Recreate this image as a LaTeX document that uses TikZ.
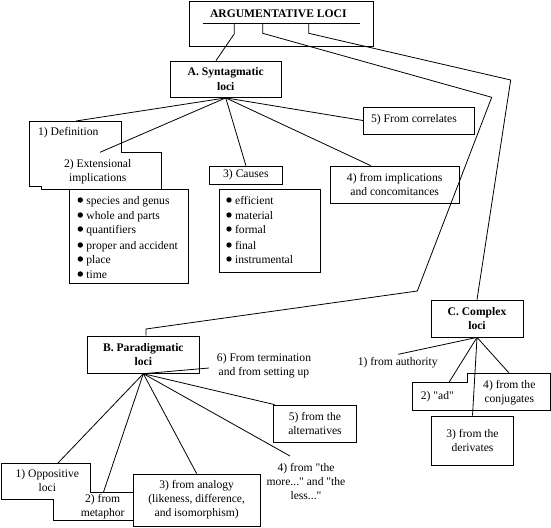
\documentclass[tikz,border=0pt]{standalone}
\usepackage{fontspec}
\setmainfont{Liberation Serif}[Ligatures=TeXOff]
\begin{document}
\begin{tikzpicture}[x=1pt,y=-1pt,line width=0.8pt,
  txt/.style={inner sep=0pt,align=center,font=\fontsize{11.6}{14}\selectfont},
  btxt/.style={inner sep=0pt,align=center,font=\fontsize{11.6}{14.5}\selectfont\bfseries},
  rect/.style={draw,inner sep=0pt},
  item/.style={inner sep=0pt,anchor=base west,font=\fontsize{11.6}{14}\selectfont},
  dot/.style={fill=black,draw=none}]
\useasboundingbox (0,0) rectangle (551,527);

% ---------- top box ----------
\node[rect,minimum width=184,minimum height=45] (top) at (281.3,23.5) {};
\node[btxt] (title) at (278.3,14) {ARGUMENTATIVE LOCI};
\coordinate (ul1) at (202.7,23.3);
\coordinate (ul2) at (360,23.3);
\draw (ul1) -- (ul2);
\coordinate (t1) at (234.3,23.3);
\coordinate (t2) at (262.7,23.3);
\coordinate (t3) at (308.7,23.3);

% ---------- A. Syntagmatic ----------
\node[rect,btxt,minimum width=110.5,minimum height=36.5] (A) at (225.75,79.25) {A. Syntagmatic\\loci};

% definition / extensional staircase
\coordinate (d1) at (29.3,121);
\coordinate (d2) at (121,121);
\coordinate (d3) at (121,152.3);
\coordinate (d4) at (161.7,152.3);
\coordinate (d5) at (161.7,189);
\coordinate (d6) at (41.7,189);
\coordinate (d7) at (41.7,186);
\coordinate (d8) at (29.3,186);
\draw (d1) -- (d2) -- (d3) -- (d4) -- (d5) -- (d6) -- (d7) -- (d8) -- cycle;
\node[txt] (def) at (68.3,132.3) {1) Definition};
\node[txt] (ext) at (97.7,172) {2) Extensional\\implications};
\coordinate (defTop) at (76,121);
\coordinate (extEnd) at (100,152.3);

\node[rect,minimum width=119,minimum height=94.3] (extlist) at (128.8,236.15) {};
\foreach \y/\t [count=\i] in {200/species and genus,215/whole and parts,229/quantifiers,245/proper and accident,259/place,274/time}{
  \fill[dot] (80.3,\y) circle (2.7);
  \node[item] (e\i) at (86,\y+4) {\t};
}

\node[rect,txt,minimum width=73.2,minimum height=18] (causes) at (245.9,175) {3) Causes};
\node[rect,minimum width=101.3,minimum height=83.3] (causelist) at (269.65,230.65) {};
\foreach \y/\t [count=\i] in {200/efficient,215/material,229/formal,245/final,259/instrumental}{
  \fill[dot] (229,\y) circle (2.7);
  \node[item] (c\i) at (234.7,\y+4) {\t};
}

\node[rect,txt,minimum width=129.3,minimum height=37.3] (impl) at (394.65,184.65) {4) from implications\\and concomitances};
\node[rect,minimum width=111,minimum height=27] (corr) at (418.8,120.5) {};
\node[txt] (corrtxt) at (414,120) {5) From correlates};

% ---------- B. Paradigmatic ----------
\node[rect,btxt,minimum width=111.3,minimum height=37.3] (B) at (143.35,354.65) {B. Paradigmatic\\loci};
\node[txt] (term) at (264,365.3) {6) From termination\\and from setting up};
\coordinate (termEnd) at (209,368);

\node[rect,txt,minimum width=83.4,minimum height=37.3] (alt) at (315,423.65) {5) from the\\alternatives};
\node[txt] (more) at (306,481.7) {4) from "the\\more..." and "the\\less..."};
\coordinate (moreEnd) at (290,456);

\coordinate (o1) at (1,463.3);
\coordinate (o2) at (90.7,463.3);
\coordinate (o3) at (90.7,492.7);
\coordinate (o4) at (133.3,492.7);
\coordinate (o5) at (133.3,520.7);
\coordinate (o6) at (53.3,520.7);
\coordinate (o7) at (53.3,499.3);
\coordinate (o8) at (1,499.3);
\draw (o1) -- (o2) -- (o3) -- (o4) -- (o5) -- (o6) -- (o7) -- (o8) -- cycle;
\node[txt] (opp) at (47.3,480.8) {1) Oppositive\\loci};
\node[txt] (meta) at (102.7,506.8) {2) from\\metaphor};
\coordinate (oppTop) at (57.7,463.3);
\coordinate (metaTop) at (103.3,492.7);
\node[rect,txt,minimum width=126.7,minimum height=52] (analog) at (196.65,500) {3) from analogy\\(likeness, difference,\\and isomorphism)};

% ---------- C. Complex ----------
\node[rect,btxt,minimum width=92,minimum height=37] (C) at (477,318.5) {C. Complex\\loci};
\node[txt] (auth) at (397.7,362.7) {1) from authority};
\coordinate (authEnd) at (398.3,354.3);

\coordinate (a1) at (412.3,382.3);
\coordinate (a2) at (467.7,382.3);
\coordinate (a3) at (467.7,373.3);
\coordinate (a4) at (550.5,373.3);
\coordinate (a5) at (550.5,410);
\coordinate (a6) at (412.3,410);
\draw (a1) -- (a2) -- (a3) -- (a4) -- (a5) -- (a6) -- cycle;
\node[txt] (ad) at (437.3,396.7) {2) "ad"};
\node[txt] (conj) at (509.3,392.3) {4) from the\\conjugates};
\coordinate (adEnd) at (449,382.3);
\coordinate (conjEnd) at (509.3,373.3);
\node[rect,txt,minimum width=81.6,minimum height=49.7] (deriv) at (472.5,440.85) {3) from the\\derivates};

% ---------- connectors from the top ----------
\coordinate (k1) at (491.7,97.3);
\coordinate (k2) at (417.3,291);
\coordinate (k3) at (146,329);
\coordinate (k4) at (510.7,80);
\draw (t1) -- ++(0,10.5) -- ([xshift=-9.75]A.north);
\draw (t2) -- ++(0,10) -- (k1) -- (k2) -- (k3) -- ([xshift=2.65]B.north);
\draw (t3) -- ++(0,10) -- (k4) -- (C.north);

% ---------- connectors from A ----------
\draw (A.south) -- (defTop);
\draw (A.south) -- (extEnd);
\draw (A.south) -- (causes.north);
\draw (A.south) -- ([xshift=-24]impl.north);
\draw (A.south) -- (corr.west);

% ---------- connectors from B ----------
\draw (B.south) -- (oppTop);
\draw (B.south) -- (metaTop);
\draw (B.south) -- (analog.north);
\draw (B.south) -- (moreEnd);
\draw (B.south) -- ([xshift=1.7]alt.north west);
\draw (B.south) -- (termEnd);

% ---------- connectors from C ----------
\draw (C.south) -- (authEnd);
\draw (C.south) -- (adEnd);
\draw (C.south) -- (deriv.north);
\draw (C.south) -- (conjEnd);
\end{tikzpicture}
\end{document}
